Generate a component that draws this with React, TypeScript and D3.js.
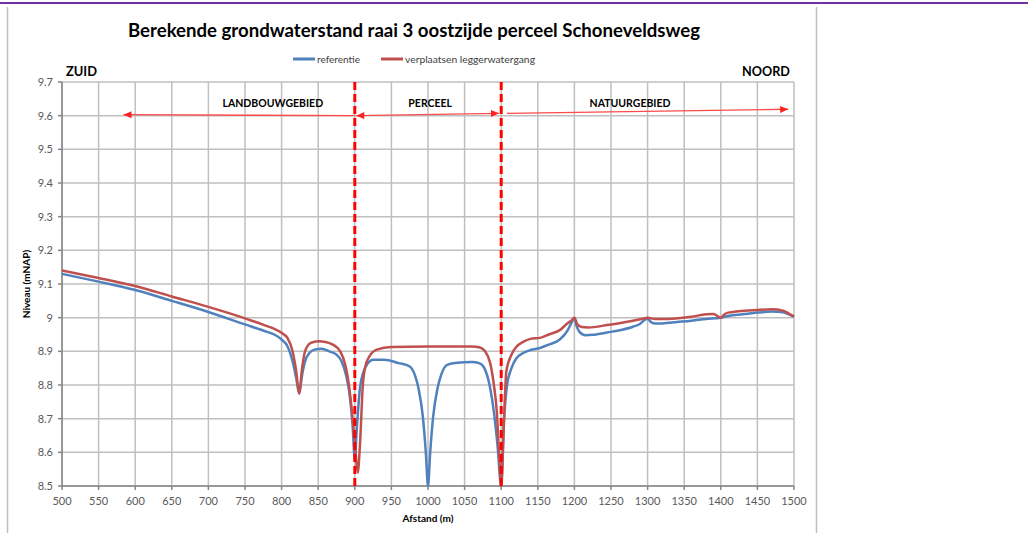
import React from "react";
import * as d3 from "d3";

const chartTitle = "Berekende grondwaterstand raai 3 oostzijde perceel Schoneveldsweg";
const seriesNames = ["referentie", "verplaatsen leggerwatergang"];
const seriesColors = ["#4F81BD", "#C0504D"];
const xTicks = d3.range(500, 1501, 50);
const yTicks = [8.5, 8.6, 8.7, 8.8, 8.9, 9.0, 9.1, 9.2, 9.3, 9.4, 9.5, 9.6, 9.7];

const refX = [500,550,600,650,700,750,780,790,800,808,815,820,824,828,832,838,845,855,865,875,882,888,893,897,900,903,907,912,918,925,940,960,975,982,987,993,997,1000,1003,1007,1013,1018,1026,1040,1060,1070,1077,1085,1090,1095,1100,1104,1108,1114,1121,1130,1140,1153,1165,1180,1191,1196,1200,1203,1207,1215,1225,1245,1265,1280,1290,1297,1300,1304,1310,1320,1340,1360,1380,1400,1410,1430,1450,1470,1485,1493,1500];
const refY = [9.13,9.107,9.082,9.05,9.017,8.98,8.958,8.95,8.935,8.915,8.87,8.82,8.775,8.83,8.87,8.895,8.905,8.908,8.9,8.89,8.87,8.83,8.77,8.68,8.58,8.68,8.79,8.84,8.865,8.875,8.875,8.865,8.855,8.83,8.79,8.705,8.6,8.5,8.6,8.705,8.79,8.83,8.86,8.866,8.868,8.865,8.85,8.79,8.72,8.62,8.5,8.7,8.8,8.85,8.88,8.895,8.904,8.91,8.92,8.935,8.963,8.985,8.999,8.975,8.958,8.948,8.949,8.956,8.964,8.973,8.982,8.995,8.997,8.988,8.983,8.983,8.987,8.991,8.996,9.0,9.005,9.01,9.015,9.018,9.016,9.01,9.003];

const verX = [500,550,600,650,700,750,780,790,800,808,815,820,824,828,832,840,850,860,870,880,887,892,897,901,904,907,911,915,920,930,950,1000,1060,1070,1078,1085,1090,1094,1097,1100,1103,1107,1114,1121,1130,1140,1153,1165,1180,1191,1196,1200,1204,1210,1219,1245,1280,1296,1300,1310,1320,1360,1380,1390,1395,1400,1405,1410,1450,1470,1485,1493,1500];
const verY = [9.14,9.118,9.094,9.063,9.032,8.998,8.975,8.967,8.955,8.94,8.9,8.84,8.775,8.85,8.9,8.925,8.93,8.928,8.92,8.9,8.86,8.8,8.7,8.6,8.54,8.62,8.8,8.86,8.885,8.905,8.913,8.914,8.914,8.912,8.9,8.865,8.8,8.72,8.6,8.5,8.65,8.84,8.89,8.914,8.928,8.937,8.94,8.95,8.963,8.984,8.992,9.0,8.98,8.972,8.971,8.978,8.991,8.998,9.0,8.996,8.996,9.003,9.01,9.011,9.005,9.0,9.01,9.015,9.023,9.025,9.021,9.012,9.003];

const boundaries = [900, 1100];
const zoneLabels = ["LANDBOUWGEBIED", "PERCEEL", "NATUURGEBIED"];
const zoneLabelX = [788, 1003, 1276];
// arrows: start/end in data units
const arrowX1 = [900, 902, 1108];
const arrowY1 = [9.6, 9.6, 9.607];
const arrowX2 = [584, 1097, 1492];
const arrowY2 = [9.603, 9.607, 9.619];

const FONT = "Lato, 'Open Sans', sans-serif";

export default function App() {
  const W = 1028, H = 533;
  const left = 62, right = 794, top = 82, bottom = 486;
  const x = d3.scaleLinear().domain([500, 1500]).range([left, right]);
  const y = d3.scaleLinear().domain([8.5, 9.7]).range([bottom, top]);
  const line = d3
    .line<[number, number]>()
    .x((d) => x(d[0]))
    .y((d) => y(d[1]))
    .curve(d3.curveMonotoneX);
  const refData: [number, number][] = refX.map((v, i) => [v, refY[i]]);
  const verData: [number, number][] = verX.map((v, i) => [v, verY[i]]);

  const arrowHead = (x1: number, y1: number, x2: number, y2: number) => {
    const ang = Math.atan2(y2 - y1, x2 - x1);
    const L = 8, Wd = 3.5;
    const bx = x2 - L * Math.cos(ang), by = y2 - L * Math.sin(ang);
    const px = -Math.sin(ang) * Wd, py = Math.cos(ang) * Wd;
    return `M${x2},${y2}L${bx + px},${by + py}L${bx - px},${by - py}Z`;
  };

  return (
    <svg width={W} height={H} style={{ position: "absolute", left: 0, top: 0, background: "#fff" }} fontFamily={FONT}>
      <rect x={0} y={0} width={W} height={H} fill="#fff" />
      <line x1={0} x2={W} y1={3} y2={3} stroke="#7030A0" strokeWidth={2} />
      <line x1={7.5} x2={7.5} y1={7} y2={H} stroke="#BFBFBF" strokeWidth={1.5} />
      <line x1={816.5} x2={816.5} y1={7} y2={H} stroke="#BFBFBF" strokeWidth={1.5} />

      <text x={414} y={37} textAnchor="middle" fontSize={19} fontWeight="bold" fill="#000" textLength={572} lengthAdjust="spacingAndGlyphs">
        {chartTitle}
      </text>

      {/* legend */}
      <g fontSize={10} fill="#404040">
        <line x1={293} x2={315} y1={59} y2={59} stroke={seriesColors[0]} strokeWidth={3} />
        <text x={317} y={62.5} textLength={43} lengthAdjust="spacingAndGlyphs">{seriesNames[0]}</text>
        <line x1={381} x2={403} y1={59} y2={59} stroke={seriesColors[1]} strokeWidth={3} />
        <text x={405} y={62.5} textLength={130} lengthAdjust="spacingAndGlyphs">{seriesNames[1]}</text>
      </g>

      <text x={66} y={76} fontSize={14} fontWeight="bold" fill="#000" textLength={31} lengthAdjust="spacingAndGlyphs">ZUID</text>
      <text x={790} y={76} fontSize={14} fontWeight="bold" fill="#000" textAnchor="end" textLength={48} lengthAdjust="spacingAndGlyphs">NOORD</text>

      {/* grid */}
      <g stroke="#BFBFBF" strokeWidth={1.5}>
        {xTicks.map((t) => (
          <line key={"gx" + t} x1={x(t)} x2={x(t)} y1={top} y2={bottom} />
        ))}
        {yTicks.map((t) => (
          <line key={"gy" + t} x1={left} x2={right} y1={y(t)} y2={y(t)} />
        ))}
      </g>
      {/* axes */}
      <g stroke="#868686" strokeWidth={1.5}>
        <line x1={left} x2={left} y1={top} y2={bottom} />
        <line x1={left} x2={right} y1={bottom} y2={bottom} />
        {yTicks.map((t) => (
          <line key={"ty" + t} x1={left - 4} x2={left} y1={y(t)} y2={y(t)} />
        ))}
        {xTicks.map((t) => (
          <line key={"tx" + t} x1={x(t)} x2={x(t)} y1={bottom} y2={bottom + 4} />
        ))}
      </g>
      <g fontSize={11} fill="#595959">
        {yTicks.map((t) => (
          <text key={"ly" + t} x={53} y={y(t) + 4} textAnchor="end">
            {d3.format("~g")(t)}
          </text>
        ))}
        {xTicks.map((t) => (
          <text key={"lx" + t} x={x(t)} y={505} textAnchor="middle">
            {t}
          </text>
        ))}
      </g>
      <text x={428} y={522} textAnchor="middle" fontSize={10} fontWeight="bold" fill="#000">Afstand (m)</text>
      <text transform={`translate(30,${284}) rotate(-90)`} textAnchor="middle" fontSize={10} fontWeight="bold" fill="#000">Niveau (mNAP)</text>

      {/* series */}
      <path d={line(refData) || ""} fill="none" stroke={seriesColors[0]} strokeWidth={2.5} strokeLinejoin="round" />
      <path d={line(verData) || ""} fill="none" stroke={seriesColors[1]} strokeWidth={2.5} strokeLinejoin="round" />

      {/* boundaries */}
      {boundaries.map((b) => (
        <line key={"b" + b} x1={x(b)} x2={x(b)} y1={top} y2={bottom} stroke="#FF0000" strokeWidth={3} strokeDasharray="8,4" />
      ))}

      {/* arrows */}
      {arrowX1.map((_, i) => {
        const x1 = x(arrowX1[i]), y1 = y(arrowY1[i]), x2 = x(arrowX2[i]), y2 = y(arrowY2[i]);
        return (
          <g key={"a" + i}>
            <line x1={x1} y1={y1} x2={x2} y2={y2} stroke="#FF4A4A" strokeWidth={1.3} />
            <path d={arrowHead(x1, y1, x2, y2)} fill="#FF2020" />
            {i === 1 && <path d={arrowHead(x2, y2, x1, y1)} fill="#FF2020" />}
          </g>
        );
      })}
      <g fontSize={10.5} fontWeight="bold" fill="#000" textAnchor="middle">
        {zoneLabels.map((l, i) => (
          <text key={l} x={x(zoneLabelX[i])} y={107}>{l}</text>
        ))}
      </g>
    </svg>
  );
}
